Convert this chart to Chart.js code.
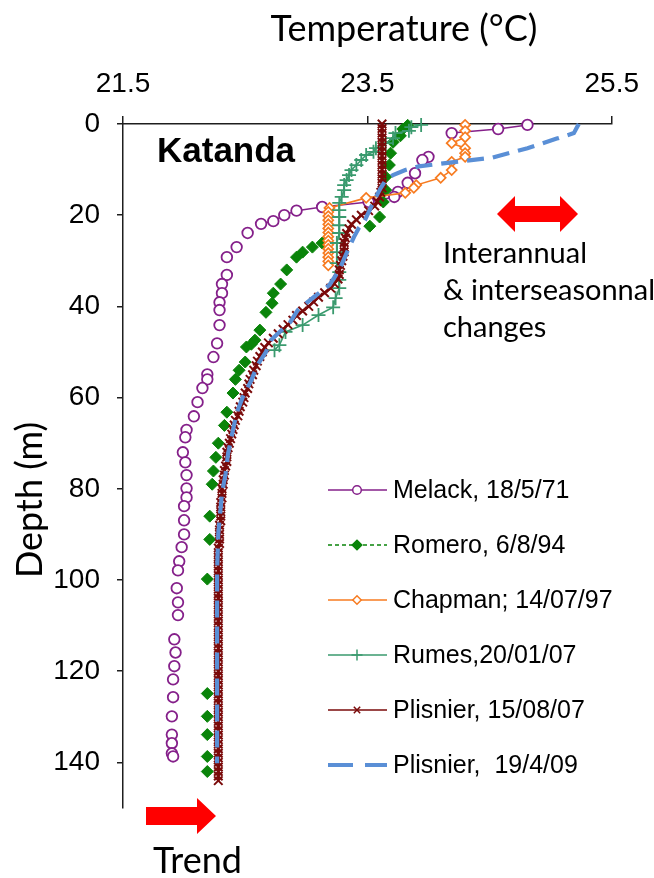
<!DOCTYPE html>
<html>
<head>
<meta charset="utf-8">
<title>Katanda temperature profiles</title>
<script src="https://cdn.jsdelivr.net/npm/chart.js@4.4.1/dist/chart.umd.min.js"></script>
<style>
  html, body { margin: 0; padding: 0; background: #fff; }
  canvas { display: block; }
</style>
</head>
<body>
<canvas id="profiles" width="654" height="878"></canvas>
<script>
// Temperature (°C) / depth (m) pairs, one set per cast
const melackTemp = [24.81, 24.57, 24.19, 24.00, 23.95, 23.89, 23.83, 23.75, 23.72, 23.51, 23.13, 22.92, 22.82, 22.73, 22.63,
  22.52, 22.43, 22.35, 22.35, 22.31, 22.31, 22.29, 22.29, 22.29, 22.27, 22.24, 22.19, 22.19, 22.15, 22.11, 22.08, 22.02,
  22.01, 21.99, 22.01, 22.02, 22.02, 22.02, 22.00, 22.00, 22.00, 21.98, 21.96, 21.95, 21.94, 21.95, 21.95, 21.92, 21.93,
  21.92, 21.91, 21.91, 21.90, 21.90, 21.90, 21.90, 21.91];
const melackDepth = [0.2, 1.1, 2.0, 7.2, 7.9, 10.8, 12.9, 14.9, 16.0, 17.1, 18.2, 19.0, 20.0, 21.3, 21.9,
  23.9, 27.0, 29.2, 33.1, 35.1, 37.1, 39.1, 40.8, 44.1, 48.1, 51.1, 54.9, 56.0, 57.9, 61.0, 64.1, 67.1,
  68.7, 72.0, 74.2, 77.0, 79.9, 81.9, 83.8, 86.9, 90.0, 92.8, 95.9, 97.9, 101.8, 104.9, 107.7, 113.0, 115.9,
  118.9, 121.8, 125.7, 129.9, 133.9, 135.8, 138.0, 138.7];

const romeroTemp = [23.83, 23.79, 23.77, 23.71, 23.69, 23.68, 23.65, 23.65, 23.63, 23.60, 23.52, 23.13, 23.05, 22.97, 22.92,
  22.84, 22.79, 22.73, 22.72, 22.67, 22.62, 22.58, 22.55, 22.51, 22.50, 22.45, 22.42, 22.40, 22.35, 22.33, 22.28, 22.26,
  22.24, 22.23, 22.21, 22.21, 22.19, 22.19, 22.19, 22.19, 22.19, 22.19];
const romeroDepth = [0.3, 1.1, 2.6, 4.0, 6.4, 9.0, 11.6, 14.5, 17.1, 20.4, 22.4, 26.1, 27.0, 28.1, 29.2,
  32.0, 35.1, 37.1, 39.3, 41.3, 45.2, 47.4, 48.3, 48.9, 52.2, 54.0, 56.0, 59.0, 63.2, 66.1, 70.0, 73.1,
  76.1, 79.0, 86.0, 91.1, 99.8, 124.9, 129.9, 133.9, 138.7, 142.0];

const chapmanTemp = [24.30, 24.30, 24.30, 24.19, 24.30, 24.30, 24.30, 24.19, 24.19, 24.10, 23.90, 23.88, 23.81, 23.49, 23.19,
  23.18, 23.18, 23.18, 23.18, 23.18, 23.18, 23.18, 23.18, 23.18, 23.18, 23.18, 23.18, 23.18, 23.18];
const chapmanDepth = [0.2, 1.5, 2.9, 4.2, 5.3, 6.4, 7.2, 8.3, 10.1, 11.8, 13.4, 14.0, 15.1, 16.2, 18.4,
  19.3, 20.2, 21.1, 22.0, 22.9, 23.8, 24.7, 25.6, 26.5, 27.4, 28.3, 29.2, 30.1, 31.0];

const rumesTemp = [23.94, 23.86, 23.84, 23.73, 23.71, 23.65, 23.57, 23.55, 23.49, 23.45, 23.41, 23.37, 23.35, 23.33, 23.31,
  23.31, 23.29, 23.27, 23.27, 23.27, 23.27, 23.27, 23.25, 23.25, 23.25, 23.27, 23.27, 23.27, 23.24, 23.22, 23.10, 22.97,
  22.83, 22.78, 22.74];
const rumesDepth = [0.2, 0.7, 1.5, 2.0, 3.1, 4.2, 5.3, 6.1, 6.8, 7.9, 9.0, 10.1, 11.2, 12.3, 13.4,
  14.5, 16.0, 17.3, 18.9, 20.4, 22.2, 23.9, 26.1, 28.1, 30.5, 32.5, 34.2, 36.0, 38.2, 40.2, 41.9, 44.1,
  45.6, 48.5, 49.6];

const plisnier07Temp = [
  23.62, 23.62, 23.62, 23.62, 23.62, 23.62, 23.62, 23.62, 23.62, 23.62,
  23.62, 23.62, 23.62, 23.62, 23.62, 23.61, 23.60, 23.58, 23.56, 23.51,
  23.45, 23.41, 23.37, 23.35, 23.33, 23.32, 23.31, 23.31, 23.31, 23.30,
  23.29, 23.28, 23.27, 23.27, 23.26, 23.23, 23.20, 23.15, 23.10, 23.06,
  23.02, 22.97, 22.92, 22.89, 22.85, 22.81, 22.77, 22.73, 22.69, 22.66,
  22.64, 22.62, 22.60, 22.59, 22.57, 22.56, 22.54, 22.53, 22.52, 22.50,
  22.49, 22.48, 22.46, 22.45, 22.44, 22.42, 22.41, 22.40, 22.39, 22.38,
  22.37, 22.36, 22.35, 22.35, 22.35, 22.34, 22.33, 22.33, 22.32, 22.32,
  22.31, 22.31, 22.31, 22.30, 22.30, 22.30, 22.30, 22.30, 22.29, 22.29,
  22.29, 22.29, 22.29, 22.28, 22.28, 22.28, 22.28, 22.28, 22.28, 22.28,
  22.28, 22.28, 22.28, 22.28, 22.28, 22.28, 22.28, 22.28, 22.28, 22.28,
  22.28, 22.28, 22.28, 22.28, 22.28, 22.28, 22.28, 22.28, 22.28, 22.28,
  22.28, 22.28, 22.28, 22.28, 22.28, 22.28, 22.28, 22.28, 22.28, 22.28,
  22.28, 22.28, 22.28, 22.28, 22.28, 22.28, 22.28, 22.28, 22.28, 22.28,
  22.28, 22.28, 22.28, 22.28, 22.28];
const plisnier07Depth = [
  0, 1, 2, 3, 4, 5, 6, 7, 8, 9, 10, 11, 12, 13, 14, 15, 16, 17, 18, 19,
  20, 21, 22, 23, 24, 25, 26, 27, 28, 29, 30, 31, 32, 33, 34, 35, 36, 37, 38, 39,
  40, 41, 42, 43, 44, 45, 46, 47, 48, 49, 50, 51, 52, 53, 54, 55, 56, 57, 58, 59,
  60, 61, 62, 63, 64, 65, 66, 67, 68, 69, 70, 71, 72, 73, 74, 75, 76, 77, 78, 79,
  80, 81, 82, 83, 84, 85, 86, 87, 88, 89, 90, 91, 92, 93, 94, 95, 96, 97, 98, 99,
  100, 101, 102, 103, 104, 105, 106, 107, 108, 109, 110, 111, 112, 113, 114, 115, 116, 117, 118, 119,
  120, 121, 122, 123, 124, 125, 126, 127, 128, 129, 130, 131, 132, 133, 134, 135, 136, 137, 138, 139,
  140, 141, 142, 143, 144];

const plisnier09Temp = [25.23, 25.21, 25.19, 25.05, 24.81, 24.52, 24.19, 23.92, 23.81, 23.71, 23.65, 23.61, 23.57, 23.53,
  23.48, 23.43, 23.39, 23.33, 23.27, 23.19, 23.06, 22.93, 22.87, 22.71, 22.67, 22.60, 22.55, 22.48, 22.43, 22.40, 22.36,
  22.34, 22.31, 22.28, 22.27, 22.27, 22.27, 22.27];
const plisnier09Depth = [0, 1.0, 2.0, 3.2, 5.3, 7.4, 8.4, 9.3, 10.1, 11.2, 12.3, 14.0, 16.0, 18.2,
  21.1, 22.8, 24.8, 28.3, 32.0, 35.3, 38.0, 40.8, 43.4, 47.4, 50.0, 52.9, 56.2, 59.9, 63.4, 67.1, 72.2,
  76.6, 81.0, 89.8, 97.9, 110.4, 124.9, 140.2];

const tempTicks = [21.5, 23.5, 25.5];
const depthTicks = [0, 20, 40, 60, 80, 100, 120, 140];

const AXIS = '#1e1e1e';
const TICK_FONT = { family: 'Liberation Sans', size: 28 };
const TEXT_FONT = 'Lato';

const pts = (t, d) => t.map((v, i) => ({ x: v, y: d[i] }));

// casts are only joined by a line near the surface; deeper points stay loose
function joinAbove(limit) {
  return {
    borderColor: c => (c.p1.parsed.y <= limit && c.p1.parsed.y - c.p0.parsed.y < 4) ? undefined : 'rgba(0,0,0,0)'
  };
}

const datasets = [
  {
    label: 'Melack, 18/5/71', data: pts(melackTemp, melackDepth),
    borderColor: '#85208a', borderWidth: 1.5, segment: joinAbove(22),
    pointStyle: 'circle', pointRadius: 5.3, pointBorderWidth: 1.8,
    pointBorderColor: '#85208a', pointBackgroundColor: '#ffffff', legendRadius: 4.3, order: 6
  },
  {
    label: 'Romero, 6/8/94', data: pts(romeroTemp, romeroDepth),
    borderColor: '#0a840a', borderWidth: 1.5, borderDash: [4, 3], segment: joinAbove(3),
    pointStyle: 'rectRot', pointRadius: 6, pointBorderWidth: 1,
    pointBorderColor: '#0a840a', pointBackgroundColor: '#0a840a', legendRadius: 4.8, order: 5
  },
  {
    label: 'Chapman; 14/07/97', data: pts(chapmanTemp, chapmanDepth),
    borderColor: '#f77b20', borderWidth: 1.6,
    pointStyle: 'rectRot', pointRadius: 5, pointBorderWidth: 1.7,
    pointBorderColor: '#f77b20', pointBackgroundColor: '#ffffff', legendRadius: 4.2, order: 4
  },
  {
    label: 'Rumes,20/01/07', data: pts(rumesTemp, rumesDepth),
    borderColor: '#3a9a6e', borderWidth: 1.6,
    pointStyle: 'cross', pointRadius: 7, pointBorderWidth: 1.8,
    pointBorderColor: '#3a9a6e', pointBackgroundColor: '#3a9a6e', legendRadius: 5.5, order: 3
  },
  {
    label: 'Plisnier, 15/08/07', data: pts(plisnier07Temp, plisnier07Depth),
    borderColor: '#7a0a0a', borderWidth: 2.4,
    pointStyle: 'crossRot', pointRadius: 6, pointBorderWidth: 2,
    pointBorderColor: '#7a0a0a', pointBackgroundColor: '#7a0a0a', legendRadius: 4.5, order: 2
  },
  {
    label: 'Plisnier,  19/4/09', data: pts(plisnier09Temp, plisnier09Depth),
    borderColor: '#5a8fd6', borderWidth: 4.2, borderDash: [17, 9], legendDash: [25, 12], legendWidth: 4,
    pointRadius: 0, legendRadius: 0, order: 1
  }
];
datasets.forEach(ds => { ds.showLine = true; ds.fill = false; ds.clip = false; });

function drawMarker(ctx, style, x, y, r, stroke, fill, lw) {
  ctx.save();
  ctx.strokeStyle = stroke;
  ctx.fillStyle = fill;
  ctx.lineWidth = lw;
  ctx.setLineDash([]);
  ctx.beginPath();
  if (style === 'circle') {
    ctx.arc(x, y, r, 0, Math.PI * 2);
  } else if (style === 'rectRot') {
    ctx.moveTo(x - r, y); ctx.lineTo(x, y - r); ctx.lineTo(x + r, y); ctx.lineTo(x, y + r); ctx.closePath();
  } else if (style === 'cross') {
    ctx.moveTo(x - r, y); ctx.lineTo(x + r, y); ctx.moveTo(x, y - r); ctx.lineTo(x, y + r);
  } else if (style === 'crossRot') {
    const d = r * Math.SQRT1_2;
    ctx.moveTo(x - d, y - d); ctx.lineTo(x + d, y + d); ctx.moveTo(x + d, y - d); ctx.lineTo(x - d, y + d);
  }
  if (style === 'circle' || style === 'rectRot') ctx.fill();
  ctx.stroke();
  ctx.restore();
}

// legend sits inside the plot, bottom right
const insetLegend = {
  id: 'insetLegend',
  afterDatasetsDraw(chart) {
    const ctx = chart.ctx;
    chart.data.datasets.forEach((ds, i) => {
      const y = 490 + i * 55;
      ctx.save();
      ctx.strokeStyle = ds.borderColor;
      ctx.lineWidth = ds.legendWidth || 1.5;
      ctx.setLineDash(ds.legendDash || ds.borderDash || []);
      ctx.beginPath();
      ctx.moveTo(328, y);
      ctx.lineTo(387, y);
      ctx.stroke();
      ctx.restore();
      if (ds.legendRadius) {
        drawMarker(ctx, ds.pointStyle, 357, y, ds.legendRadius, ds.pointBorderColor, ds.pointBackgroundColor, 1.5);
      }
      ctx.save();
      ctx.fillStyle = '#000';
      ctx.font = '25px "Liberation Sans"';
      ctx.textBaseline = 'middle';
      ctx.fillText(ds.label, 393, y + 1);
      ctx.restore();
    });
  }
};

function arrowPath(ctx, pts) {
  ctx.beginPath();
  pts.forEach(([x, y], i) => (i ? ctx.lineTo(x, y) : ctx.moveTo(x, y)));
  ctx.closePath();
  ctx.fill();
}

// titles, site name, arrows and notes
const notes = {
  id: 'notes',
  afterDraw(chart) {
    const ctx = chart.ctx;
    ctx.save();
    ctx.fillStyle = '#000';
    ctx.textBaseline = 'alphabetic';

    ctx.font = `36px ${TEXT_FONT}`;
    ctx.textAlign = 'center';
    ctx.fillText('Temperature (°C)', 404, 41);

    ctx.save();
    ctx.translate(42, 500);
    ctx.rotate(-Math.PI / 2);
    ctx.fillText('Depth (m)', 0, 0);
    ctx.restore();

    ctx.textAlign = 'left';
    ctx.font = 'bold 35px "Liberation Sans"';
    ctx.fillText('Katanda', 157, 162);

    ctx.font = `29px ${TEXT_FONT}`;
    ctx.fillText('Interannual', 443, 263);
    ctx.fillText('& interseasonnal', 443, 300);
    ctx.fillText('changes', 443, 337);

    ctx.font = `36px ${TEXT_FONT}`;
    ctx.fillText('Trend', 153, 873);

    ctx.fillStyle = '#ff0000';
    arrowPath(ctx, [[497, 214], [515, 196], [515, 206], [560, 206], [560, 196], [578, 214],
      [560, 232], [560, 222], [515, 222], [515, 232]]);
    arrowPath(ctx, [[146, 807], [197, 807], [197, 798], [216, 816], [197, 834], [197, 825], [146, 825]]);
    ctx.restore();
  }
};

new Chart(document.getElementById('profiles'), {
  type: 'scatter',
  data: { datasets },
  options: {
    responsive: false,
    animation: false,
    events: [],
    layout: { padding: { top: 0, left: 0, right: 35, bottom: 70 } },
    plugins: { legend: { display: false }, tooltip: { enabled: false } },
    scales: {
      x: {
        type: 'linear', position: 'top', min: 21.5, max: 25.5,
        afterBuildTicks: s => { s.ticks = tempTicks.map(v => ({ value: v })); },
        afterFit: s => { s.height = 124; },
        grid: { drawOnChartArea: false, drawTicks: true, tickLength: 8, color: AXIS, lineWidth: 1.5 },
        border: { display: true, color: AXIS, width: 1.5 },
        ticks: { color: '#000', font: TICK_FONT, padding: 15, maxRotation: 0, callback: v => v.toFixed(1) }
      },
      y: {
        type: 'linear', reverse: true, min: 0, max: 150,
        afterBuildTicks: s => { s.ticks = depthTicks.map(v => ({ value: v })); },
        afterFit: s => { s.width = 123; },
        grid: { drawOnChartArea: false, drawTicks: true, tickLength: 6, color: AXIS, lineWidth: 1.5 },
        border: { display: true, color: AXIS, width: 1.5 },
        ticks: { color: '#000', font: TICK_FONT, padding: 17 }
      }
    }
  },
  plugins: [insetLegend, notes]
});
</script>
</body>
</html>
